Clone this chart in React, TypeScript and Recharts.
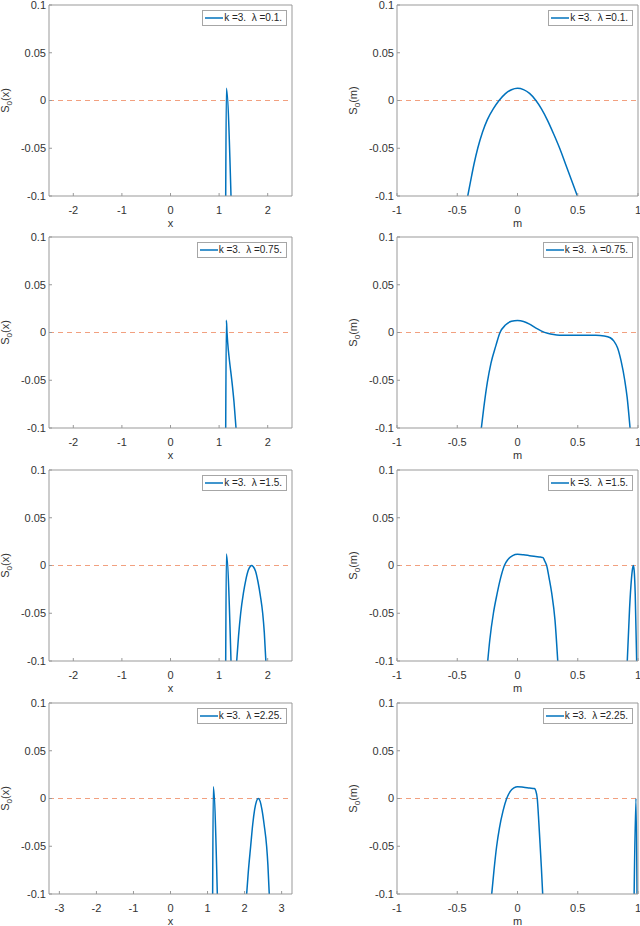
import { Legend, Line, LineChart, ReferenceLine, XAxis, YAxis } from "recharts";

type Pt = [number, number];

const kValue = 3;
const lambdas = ["0.1", "0.75", "1.5", "2.25"];

const yTicks = [-0.1, -0.05, 0, 0.05, 0.1];
const yRange: [number, number] = [-0.1, 0.1];
const xTicks = [-2, -1, 0, 1, 2];
const xRange: [number, number] = [-2.5, 2.5];
const xTicksWide = [-3, -2, -1, 0, 1, 2, 3];
const xRangeWide: [number, number] = [-3.28, 3.28];
const mTicks = [-1, -0.5, 0, 0.5, 1];
const mRange: [number, number] = [-1, 1];

// curve pieces, [x or m, S0]
const sx01: Pt[][] = [[[1.136, -0.1], [1.15, 0.0128], [1.245, -0.1]]];

const sm01: Pt[][] = [
  [
    [-0.413, -0.1], [-0.39, -0.085], [-0.36, -0.066], [-0.33, -0.05], [-0.29, -0.033],
    [-0.25, -0.02], [-0.2, -0.0085], [-0.153, 0], [-0.1, 0.0072], [-0.05, 0.0113],
    [0, 0.0128], [0.05, 0.0114], [0.1, 0.0074], [0.153, 0], [0.2, -0.009],
    [0.25, -0.021], [0.3, -0.035], [0.35, -0.05], [0.4, -0.067], [0.45, -0.084],
    [0.497, -0.1],
  ],
];

const sx075: Pt[][] = [
  [
    [1.136, -0.1], [1.15, 0.0128], [1.163, 0], [1.177, -0.0107], [1.21, -0.028],
    [1.259, -0.049], [1.307, -0.073], [1.348, -0.1],
  ],
];

const sm075: Pt[][] = [
  [
    [-0.3, -0.1], [-0.28, -0.079], [-0.25, -0.052], [-0.22, -0.032], [-0.18, -0.014],
    [-0.145, 0], [-0.1, 0.0078], [-0.05, 0.0117], [0, 0.0125], [0.05, 0.0116],
    [0.1, 0.0088], [0.15, 0.0048], [0.2, 0.0015], [0.25, -0.0008], [0.3, -0.0022],
    [0.35, -0.0028], [0.45, -0.003], [0.55, -0.003], [0.65, -0.003], [0.72, -0.0036],
    [0.77, -0.0055], [0.8, -0.009], [0.83, -0.016], [0.86, -0.03], [0.89, -0.05],
    [0.91, -0.068], [0.934, -0.1],
  ],
];

const sx15: Pt[][] = [
  [[1.136, -0.1], [1.15, 0.012], [1.245, -0.1]],
  [
    [1.362, -0.1], [1.4, -0.074], [1.444, -0.05], [1.5, -0.029], [1.55, -0.015],
    [1.6, -0.005], [1.64, -0.001], [1.671, 0], [1.7, -0.001], [1.75, -0.006],
    [1.8, -0.017], [1.85, -0.032], [1.897, -0.05], [1.93, -0.07], [1.962, -0.1],
  ],
];

const sm15: Pt[][] = [
  [
    [-0.247, -0.1], [-0.23, -0.078], [-0.2, -0.05], [-0.17, -0.03], [-0.14, -0.013],
    [-0.109, 0], [-0.08, 0.0062], [-0.04, 0.0103], [0, 0.0117], [0.05, 0.0112],
    [0.1, 0.0103], [0.15, 0.0094], [0.19, 0.0088], [0.212, 0.0082], [0.225, 0.005],
    [0.242, 0], [0.262, -0.013], [0.284, -0.029], [0.311, -0.057], [0.334, -0.1],
  ],
  [
    [0.911, -0.1], [0.93, -0.045], [0.945, -0.015], [0.955, -0.003], [0.961, 0],
    [0.968, -0.005], [0.977, -0.03], [0.989, -0.1],
  ],
];

const sx225: Pt[][] = [
  [[1.138, -0.1], [1.156, 0.0124], [1.264, -0.1]],
  [
    [2.056, -0.1], [2.1, -0.077], [2.164, -0.05], [2.22, -0.027], [2.27, -0.012],
    [2.32, -0.003], [2.37, 0], [2.42, -0.003], [2.47, -0.012], [2.53, -0.028],
    [2.595, -0.05], [2.63, -0.07], [2.666, -0.1],
  ],
];

const sm225: Pt[][] = [
  [
    [-0.214, -0.1], [-0.195, -0.075], [-0.173, -0.05], [-0.15, -0.031], [-0.12, -0.013],
    [-0.09, 0], [-0.06, 0.0075], [-0.03, 0.011], [0, 0.0124], [0.05, 0.0118],
    [0.1, 0.011], [0.14, 0.0104], [0.152, 0.008], [0.164, 0], [0.177, -0.025],
    [0.187, -0.047], [0.198, -0.072], [0.209, -0.1],
  ],
  [[0.968, -0.1], [0.983, 0], [0.992, -0.1]],
];

type Spec = {
  v: string;
  lambda: string;
  segments: Pt[][];
  ticks: number[];
  domain: [number, number];
};

const panels: Spec[] = [
  { v: "x", lambda: lambdas[0], segments: sx01, ticks: xTicks, domain: xRange },
  { v: "m", lambda: lambdas[0], segments: sm01, ticks: mTicks, domain: mRange },
  { v: "x", lambda: lambdas[1], segments: sx075, ticks: xTicks, domain: xRange },
  { v: "m", lambda: lambdas[1], segments: sm075, ticks: mTicks, domain: mRange },
  { v: "x", lambda: lambdas[2], segments: sx15, ticks: xTicks, domain: xRange },
  { v: "m", lambda: lambdas[2], segments: sm15, ticks: mTicks, domain: mRange },
  { v: "x", lambda: lambdas[3], segments: sx225, ticks: xTicksWide, domain: xRangeWide },
  { v: "m", lambda: lambdas[3], segments: sm225, ticks: mTicks, domain: mRange },
];

const FONT = "'Liberation Sans', Arial, Helvetica, sans-serif";
const BLUE = "#0072BD";
const ZERO = "#F2A07F";
const AXIS = "#999";
const TEXT = "#333";

const CHART_W = 320;
const CHART_H = 233;
const PLOT_TOP = 5;
const PLOT_H = 191;
const rowTops = [0, 232, 465, 698];
const cols = [
  { left: 0, yAxisW: 49, right: 28 },
  { left: 320, yAxisW: 77, right: 2 },
];

function YLabel({ viewBox, name }: any) {
  const { x, y, width, height } = viewBox;
  const cx = x + width - 40.5;
  const cy = y + height / 2;
  return (
    <text
      transform={`rotate(-90 ${cx} ${cy})`}
      x={cx}
      y={cy}
      textAnchor="middle"
      fontSize={11}
      fill={TEXT}
    >
      S
      <tspan fontSize={8} dy={3}>
        0
      </tspan>
      <tspan dy={-3}>({name})</tspan>
    </text>
  );
}

function LegendBox({ text }: { text: string }) {
  return (
    <div
      style={{
        display: "flex",
        alignItems: "center",
        border: "1px solid #a6a6a6",
        background: "#fff",
        padding: "1px 4px 1px 2px",
        fontSize: 10,
        lineHeight: "12px",
        color: "#262626",
        whiteSpace: "pre",
        fontFamily: FONT,
      }}
    >
      <svg width={18} height={4} style={{ marginRight: 1 }}>
        <line x1={0} x2={18} y1={2} y2={2} stroke={BLUE} strokeWidth={1.5} />
      </svg>
      {text}
    </div>
  );
}

function Panel({ spec, index }: { spec: Spec; index: number }) {
  const lay = cols[index % 2];
  const top = rowTops[Math.floor(index / 2)];
  const legendText = `k =${kValue}.  λ =${spec.lambda}.`;
  return (
    <div style={{ position: "absolute", left: lay.left, top }}>
      <LineChart
        width={CHART_W}
        height={CHART_H}
        margin={{ top: PLOT_TOP - 1, right: lay.right - 1, bottom: 0, left: 0 }}
      >
        <XAxis
          type="number"
          dataKey="x"
          domain={spec.domain}
          ticks={spec.ticks}
          interval={0}
          allowDataOverflow
          height={CHART_H - PLOT_TOP - PLOT_H}
          tickSize={-3}
          tickMargin={13}
          stroke={AXIS}
          tick={{ fontSize: 11, fill: TEXT }}
          label={{ value: spec.v, position: "insideBottom", offset: 6, fontSize: 11, fill: TEXT }}
        />
        <XAxis
          xAxisId="top"
          orientation="top"
          type="number"
          domain={spec.domain}
          ticks={spec.ticks}
          interval={0}
          allowDataOverflow
          height={1}
          tickSize={-3}
          tick={false}
          stroke={AXIS}
        />
        <YAxis
          type="number"
          domain={yRange}
          ticks={yTicks}
          interval={0}
          allowDataOverflow
          width={lay.yAxisW}
          tickSize={-3}
          tickMargin={6}
          stroke={AXIS}
          tick={{ fontSize: 11, fill: TEXT }}
          label={(props: any) => <YLabel {...props} name={spec.v} />}
        />
        <YAxis
          yAxisId="right"
          orientation="right"
          type="number"
          domain={yRange}
          ticks={yTicks}
          interval={0}
          allowDataOverflow
          width={1}
          tickSize={-3}
          tick={false}
          stroke={AXIS}
        />
        <ReferenceLine y={0} stroke={ZERO} strokeWidth={1} strokeDasharray="5 4" />
        {spec.segments.map((seg, i) => (
          <Line
            key={i}
            data={seg.map(([x, y]) => ({ x, y }))}
            dataKey="y"
            name={legendText}
            type="monotone"
            stroke={BLUE}
            strokeWidth={1.5}
            dot={false}
            activeDot={false}
            legendType={i === 0 ? "line" : "none"}
            isAnimationActive={false}
          />
        ))}
        <Legend
          layout="vertical"
          align="center"
          verticalAlign="middle"
          wrapperStyle={{ top: PLOT_TOP + 5, right: lay.right + 5, left: "auto", width: "auto" }}
          content={() => <LegendBox text={legendText} />}
        />
      </LineChart>
    </div>
  );
}

export default function App() {
  return (
    <div
      style={{
        position: "absolute",
        left: 0,
        top: 0,
        width: 640,
        height: 926,
        background: "#fff",
        fontFamily: FONT,
      }}
    >
      {panels.map((spec, i) => (
        <Panel key={i} spec={spec} index={i} />
      ))}
    </div>
  );
}
